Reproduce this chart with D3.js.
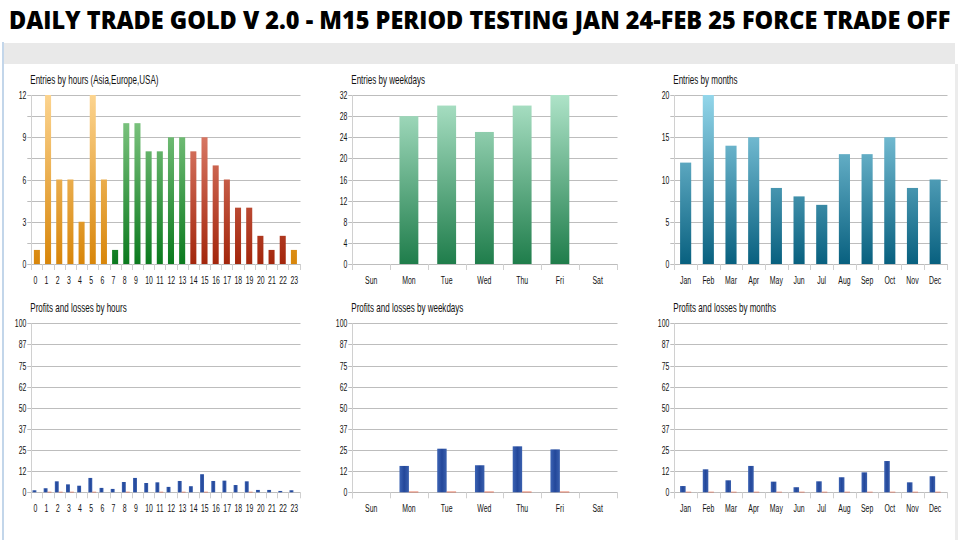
<!DOCTYPE html>
<html><head><meta charset="utf-8">
<script src="https://cdn.jsdelivr.net/npm/d3@7"></script>
<style>
html,body{margin:0;padding:0;background:#fff;}
svg{display:block;}
.lbl{font-family:"Liberation Sans",Arial,sans-serif;font-size:12px;fill:#111;}
</style></head>
<body>
<svg id="c" width="960" height="540"></svg>
<script>
// ---------- data ----------
const titleText = "DAILY TRADE GOLD V 2.0 - M15 PERIOD TESTING JAN 24-FEB 25 FORCE TRADE OFF";
const hours = ["0","1","2","3","4","5","6","7","8","9","10","11","12","13","14","15","16","17","18","19","20","21","22","23"];
const hourSession = ["asia","asia","asia","asia","asia","asia","asia","europe","europe","europe","europe","europe","europe","europe","usa","usa","usa","usa","usa","usa","usa","usa","usa","asia"];
const entriesByHour = [1,12,6,6,3,12,6,1,10,10,8,8,9,9,8,9,7,6,4,4,2,1,2,1];
const weekdays = ["Sun","Mon","Tue","Wed","Thu","Fri","Sat"];
const entriesByWeekday = [0,28,30,25,30,32,0];
const months = ["Jan","Feb","Mar","Apr","May","Jun","Jul","Aug","Sep","Oct","Nov","Dec"];
const entriesByMonth = [12,20,14,15,9,8,7,13,13,15,9,10];
const profitByHour = [1.2,2.4,6.5,4.7,3.9,8.5,2.6,2.0,6.1,8.5,5.5,5.9,3.2,6.7,3.6,10.7,6.7,6.9,4.3,6.5,1.4,1.4,0.8,1.2];
const lossByHour =   [0,0.3,0.3,0.3,0,0.3,0,0,0.3,0,0,0.3,0,0.3,0,0.3,0,0,0,0.3,0,0,0,0];
const profitByWeekday = [0,15.6,25.8,16.0,27.2,25.4,0];
const lossByWeekday =   [0,0.4,0.4,0.4,0.4,0.4,0];
const profitByMonth = [3.7,13.6,7.1,15.6,6.3,3.0,6.5,8.9,11.8,18.5,5.9,9.5];
const lossByMonth =   [0.3,0.3,0.3,0.3,0.3,0.3,0.3,0.3,0.3,0.3,0.3,0.3];
const hourTicks = [0,3,6,9,12];
const weekdayTicks = [0,4,8,12,16,20,24,28,32];
const monthTicks = [0,5,10,15,20];
const plTicks = [0,12.5,25,37.5,50,62.5,75,87.5,100];

const svg = d3.select("#c");
const defs = svg.append("defs");

// frame
svg.append("rect").attr("x",4).attr("y",43).attr("width",951).attr("height",21).attr("fill","#e9e9e9");
svg.append("rect").attr("x",2).attr("y",42).attr("width",2).attr("height",498).attr("fill","#c3d6ea");
svg.append("rect").attr("x",955).attr("y",64).attr("width",3).attr("height",476).attr("fill","#ececec");

const tt = svg.append("text").attr("x",0).attr("y",0)
  .style("font-family","'Open Sans',sans-serif").style("font-weight","800").style("font-size","24px")
  .attr("fill","#000").text(titleText);
const natW = tt.node().getComputedTextLength();
tt.attr("transform",`translate(9,29) scale(${(942/natW).toFixed(4)},1)`);

function grad(id, y0, y1, top, bot){
  const g = defs.append("linearGradient").attr("id",id).attr("gradientUnits","userSpaceOnUse")
    .attr("x1",0).attr("x2",0).attr("y1",y0).attr("y2",y1);
  g.append("stop").attr("offset","0%").attr("stop-color",top);
  g.append("stop").attr("offset","100%").attr("stop-color",bot);
}
grad("g_asia",95,264,"#fcd48f","#d8860a");
grad("g_europe",95,264,"#8fcf8f","#0b7a1e");
grad("g_usa",95,264,"#e8907f","#a3260c");
grad("g_week",95,264,"#aee3c8","#1f7d4b");
grad("g_month",95,264,"#93d6ea","#08607f");
const bg = defs.append("linearGradient").attr("id","g_blue").attr("x1",0).attr("x2",1).attr("y1",0).attr("y2",0);
bg.append("stop").attr("offset","0%").attr("stop-color","#3c63b3");
bg.append("stop").attr("offset","50%").attr("stop-color","#23479a");
bg.append("stop").attr("offset","100%").attr("stop-color","#3a60ae");

function label(g, x, y, txt, anchor, size, sx){
  return g.append("text").attr("class","lbl")
    .attr("transform",`translate(${x},${y}) scale(${sx},1)`)
    .attr("text-anchor",anchor||"start").style("font-size",size+"px").text(txt);
}

function panel(o){
  const g = svg.append("g");
  const x = d3.scaleBand().domain(o.cats).range([o.x0,o.x1]).paddingInner(0).paddingOuter(0);
  const y = d3.scaleLinear().domain([0,o.max]).range([o.yb,o.yt]);
  label(g, o.x0-1, o.yt-11, o.title, "start", 12, 0.67);
  g.selectAll(".grid").data(o.grid).join("line")
    .attr("x1",o.x0-4).attr("x2",o.x1+1).attr("y1",d=>Math.round(y(d))+0.5).attr("y2",d=>Math.round(y(d))+0.5)
    .attr("stroke","#bdbdbd").attr("stroke-width",1);
  g.append("line").attr("x1",Math.round(o.x0)+0.5).attr("x2",Math.round(o.x0)+0.5).attr("y1",o.yt).attr("y2",o.yb+6)
    .attr("stroke","#d0d0d0");
  const seps = o.cats.map(c=>x(c)).concat([o.x1]);
  g.selectAll(".sep").data(seps).join("line")
    .attr("x1",d=>Math.round(d)+0.5).attr("x2",d=>Math.round(d)+0.5).attr("y1",o.yb).attr("y2",o.yb+6)
    .attr("stroke","#d0d0d0");
  o.ticks.forEach(d=>label(g, o.x0-5, y(d)+4, String(Math.floor(d)), "end", 11.5, 0.6));
  o.cats.forEach(c=>label(g, x(c)+x.bandwidth()/2 + (o.startAnchor? -3.5 : 0), o.yb+20, c, o.startAnchor?"start":"middle", 11.5, 0.6));
  const bw = x.bandwidth()*o.barFrac;
  if(o.values){
    g.selectAll(".bar").data(o.values).join("rect")
      .attr("x",(d,i)=>x(o.cats[i])+x.bandwidth()/2-bw/2+o.shift)
      .attr("width",bw).attr("y",d=>y(d)).attr("height",d=>y(0)-y(d))
      .attr("fill",(d,i)=>"url(#"+o.fill(i)+")");
  }
  if(o.profit){
    g.selectAll(".pb").data(o.profit).join("rect")
      .attr("x",(d,i)=>x(o.cats[i])+x.bandwidth()/2-bw/2+o.shift)
      .attr("width",bw/2).attr("y",d=>y(d)).attr("height",d=>y(0)-y(d))
      .attr("fill","url(#g_blue)");
    g.selectAll(".lb").data(o.loss).join("rect")
      .attr("x",(d,i)=>x(o.cats[i])+x.bandwidth()/2+o.shift)
      .attr("width",bw/2).attr("y",d=>y(d)).attr("height",d=>y(0)-y(d))
      .attr("fill","#e04a2a");
  }
}

const sessFill = i => "g_"+hourSession[i];
panel({title:"Entries by hours (Asia,Europe,USA)",cats:hours,x0:31.3,x1:299.5,yt:95,yb:264,max:12,
  ticks:hourTicks,grid:d3.range(0,12.01,1.5),values:entriesByHour,fill:sessFill,barFrac:0.54,shift:0,startAnchor:true});
panel({title:"Entries by weekdays",cats:weekdays,x0:352.3,x1:616.5,yt:95,yb:264,max:32,
  ticks:weekdayTicks,grid:weekdayTicks,values:entriesByWeekday,fill:()=>"g_week",barFrac:0.5,shift:0});
panel({title:"Entries by months",cats:months,x0:674.3,x1:946.5,yt:95,yb:264,max:20,
  ticks:monthTicks,grid:d3.range(0,20.01,2.5),values:entriesByMonth,fill:()=>"g_month",barFrac:0.49,shift:0});

panel({title:"Profits and losses by hours",cats:hours,x0:31.3,x1:299.5,yt:323.3,yb:492.3,max:100,
  ticks:plTicks,grid:plTicks,profit:profitByHour,loss:lossByHour,barFrac:0.7,shift:-0.5,startAnchor:true});
panel({title:"Profits and losses by weekdays",cats:weekdays,x0:352.3,x1:616.5,yt:323.3,yb:492.3,max:100,
  ticks:plTicks,grid:plTicks,profit:profitByWeekday,loss:lossByWeekday,barFrac:0.5,shift:0});
panel({title:"Profits and losses by months",cats:months,x0:674.3,x1:946.5,yt:323.3,yb:492.3,max:100,
  ticks:plTicks,grid:plTicks,profit:profitByMonth,loss:lossByMonth,barFrac:0.49,shift:0});
</script>
</body></html>
